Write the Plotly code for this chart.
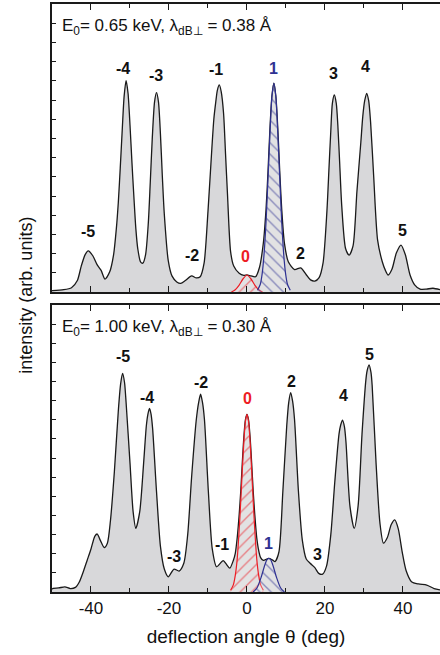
import plotly.graph_objects as go

# ---- measured spectrum, E0 = 0.65 keV (upper panel) ----
theta_a = [-50, -47, -45, -43.5, -42.5, -41.5, -40.7, -39.5, -38.4, -37.4, -36.4,
           -35.2, -34.2, -33.5, -33, -32.5, -32, -31.5, -31, -30.5, -30, -29.5,
           -29, -28.5, -28, -27.3, -26.7, -26, -25.3, -24.8, -24.3, -23.7, -23.2,
           -22.7, -22.2, -21.7, -21.2, -20.2, -19.2, -18, -17, -15.8, -14.2, -13,
           -12, -11, -10, -9, -8.5, -8, -7.6, -7.1, -6.6, -6, -5.5, -5, -4.2,
           -3.4, -2, -0.8, 0, 1, 2.2, 3.2, 4.2, 4.9, 5.4, 5.9, 6.4, 6.9, 7.4,
           7.9, 8.4, 8.9, 9.6, 10.6, 12.2, 13.8, 15.2, 16.3, 17.4, 18.5, 19.5,
           20.5, 21, 21.5, 21.9, 22.4, 22.9, 23.3, 23.8, 24.3, 25.3, 26.2, 27.2,
           28.2, 29.2, 29.7, 30.2, 30.7, 31.2, 31.7, 32.5, 33.5, 34.7, 35.5, 36.2,
           37.2, 38.3, 39.5, 40.6, 41.8, 43, 44.4, 46, 47.7, 49.5]
inten_a = [0.5, 0.8, 1.5, 4, 9, 13, 14.3, 12.5, 9.4, 7.5, 4.5,
           7, 13, 22, 31, 43, 56, 68, 73.4, 69, 58, 45,
           33, 22, 15, 10.5, 10, 13, 24, 38, 53, 66, 69.2,
           66, 55, 40, 27, 11, 5.5, 3.5, 3, 4, 5.6, 4.9,
           5.3, 10, 28, 50, 60, 66, 70, 71.9, 69.5, 62, 48, 34, 14,
           9, 6.5, 5.8, 5.9, 5.6, 5.3, 8.5, 17, 29, 42, 57, 68, 72.5, 68,
           57, 42, 29, 17, 10.5, 7.8, 8.4, 6, 4.2, 3.8, 5, 10,
           28, 42, 56, 65.5, 68.4, 65.5, 58, 44, 30, 15, 12.8, 16,
           35, 52, 61, 66.5, 69, 66.5, 59, 40, 18, 10.5, 7.5, 5.9,
           8, 13.5, 16.3, 13, 6, 2.5, 1.0, 1.0, 1.3, 0.8]

# fitted zeroth-order (red) and first-order (blue) components, upper panel
fit0_theta_a = [-4, -3, -2, -1, 0, 1, 2, 3, 4]
fit0_inten_a = [0, 0.8, 2.4, 4.6, 5.9, 4.6, 2.4, 0.8, 0]
fit1_theta_a = [2.7, 3.4, 3.9, 4.4, 4.9, 5.4, 5.9, 6.4, 6.9, 7.4, 7.9, 8.4, 8.9,
                9.4, 9.9, 10.4, 11.1]
fit1_inten_a = [0.6, 2.6, 6.4, 13.4, 24.6, 39.5, 55.1, 67.8, 72.5, 67.8, 55.1, 39.5,
                24.6, 13.4, 6.4, 2.6, 0.6]

# ---- measured spectrum, E0 = 1.00 keV (lower panel) ----
theta_b = [-50, -49.7, -48.3, -46.7, -45.3, -44, -43, -42, -41, -40, -39, -38.4,
           -37.6, -36.6, -35.8, -35, -34, -33, -32.4, -31.9, -31.4, -31, -30,
           -29.2, -28.5, -27.5, -26.5, -25.8, -25.4, -25, -24.6, -24.2, -23.2,
           -22.2, -21.2, -20.2, -18.7, -17.4, -16.2, -15.2, -14.2, -13, -12.4,
           -11.9, -11.4, -10.9, -9.9, -8.9, -7.8, -6.1, -5.2, -4.4, -3.5, -3,
           -2.5, -2, -1.6, -1.2, -0.8, -0.4, 0, 0.4, 0.8, 1.2, 1.6, 2, 2.5, 3,
           3.5, 4.2, 5.6, 6.5, 7.2, 8.2, 9.2, 10.2, 10.7, 11.2, 11.7, 12.2, 13.2,
           14.2, 15.2, 16.2, 17.4, 18.4, 19.4, 20.4, 21.5, 22.5, 23.6, 24, 24.5,
           25, 25.4, 26.4, 27.5, 28.5, 29.5, 30.5, 30.8, 31.3, 31.8, 32.1, 33.1,
           34.1, 35, 36, 37, 37.9, 38.8, 39.8, 40.8, 42.2, 44, 46.1, 48, 49.5]
inten_b = [1.0, 1.3, 1.4, 1.8, 1.2, 1.6, 3.5, 7, 11, 15, 19.5, 20.2,
           18, 15.5, 17, 25, 42, 63, 72.5, 76.2, 73, 66, 45,
           28, 22.2, 28, 45, 58, 62, 64, 62, 57, 35,
           16, 8, 5.3, 8.0, 7.3, 10, 20, 40, 60, 66,
           68.9, 66, 60, 35, 15, 8.8, 10.9, 9.5, 8.3, 11, 13.5,
           19, 27, 35, 45, 54, 60, 61.9, 60, 54, 45, 35, 27, 19, 14.5,
           12, 11, 11.7, 11.2, 10.6, 14, 35, 58, 66, 69.5, 66.5, 60, 35,
           18, 11.5, 10.0, 8.5, 6.5, 6.2, 9, 20, 38, 55, 58, 59.9,
           57.5, 52, 30, 22.2, 30, 55, 74, 77, 79.1, 76.5, 72, 45,
           24, 17.0, 19, 23.5, 25.1, 22, 14, 7.5, 3.6, 2.8, 2.4, 1.2, 0.7]

fit0_theta_b = [-4.2, -3.5, -3, -2.5, -2, -1.6, -1.2, -0.8, -0.4, 0, 0.4, 0.8, 1.2,
                1.6, 2, 2.5, 3, 3.5, 4.2]
fit0_inten_b = [0.6, 2.5, 5.8, 11.6, 21.7, 31.6, 42.4, 52.3, 59.4, 61.9, 59.4, 52.3,
                42.4, 31.6, 21.7, 11.6, 5.8, 2.5, 0.6]
fit1_theta_b = [1.6, 2.6, 3.6, 4.6, 5.1, 5.6, 6.1, 6.6, 7.6, 8.6, 9.6]
fit1_inten_b = [0, 1.5, 5, 9.5, 11.2, 11.7, 11.2, 9.5, 5, 1.5, 0]

# diffraction-order labels for each panel
orders_a = ["-5", "-4", "-3", "-2", "-1", "0", "1", "2", "3", "4", "5"]
order_x_a = [-40.7, -31.9, -23.3, -14.2, -7.9, -0.3, 6.9, 13.8, 22.3, 30.3, 39.9]
order_y_a = [20.9, 77.7, 75.3, 12.8, 77.1, 12.3, 77.7, 13.2, 75.7, 78.2, 21.5]
orders_b = ["-5", "-4", "-3", "-2", "-1", "0", "1", "2", "3", "4", "5"]
order_x_b = [-31.7, -25.7, -18.7, -11.8, -6.5, 0.1, 5.6, 11.5, 18.0, 24.7, 31.3]
order_y_b = [82.0, 67.7, 12.3, 73.1, 16.4, 67.5, 17.0, 73.5, 13.1, 68.3, 82.8]

x_major = [-40, -20, 0, 20, 40]
x_major_text = ["-40", "-20", "0", "20", "40"]
x_minor = [-30, -10, 10, 30]

titles = ["E<sub>0</sub>= 0.65 keV, λ<sub>dB⊥</sub> = 0.38 Å",
          "E<sub>0</sub>= 1.00 keV, λ<sub>dB⊥</sub> = 0.30 Å"]

RED = "#ed1c24"
BLUE = "#2e3192"
GREY = "rgb(216,216,218)"
INK = "#1a1a1a"
FONT = "Liberation Sans, Arial, sans-serif"

fig = go.Figure()

panels = [
    ("x", "y", theta_a, inten_a, fit0_theta_a, fit0_inten_a, fit1_theta_a, fit1_inten_a),
    ("x2", "y2", theta_b, inten_b, fit0_theta_b, fit0_inten_b, fit1_theta_b, fit1_inten_b),
]
for xa, ya, th, it, t0, i0, t1, i1 in panels:
    fig.add_trace(go.Scatter(x=th, y=it, xaxis=xa, yaxis=ya, mode="lines",
                             line=dict(color=INK, width=1.3, shape="spline", smoothing=0.7),
                             fill="tozeroy", fillcolor=GREY, hoverinfo="skip"))
    fig.add_trace(go.Scatter(x=t0, y=i0, xaxis=xa, yaxis=ya, mode="lines",
                             line=dict(color=RED, width=1.2, shape="spline", smoothing=0.7),
                             fill="tozeroy",
                             fillpattern=dict(shape="/", fgcolor=RED, bgcolor="rgba(255,255,255,0.25)",
                                              size=8, solidity=0.17),
                             hoverinfo="skip"))
    fig.add_trace(go.Scatter(x=t1, y=i1, xaxis=xa, yaxis=ya, mode="lines",
                             line=dict(color=BLUE, width=1.2, shape="spline", smoothing=0.7),
                             fill="tozeroy",
                             fillpattern=dict(shape="\\", fgcolor=BLUE, bgcolor="rgba(255,255,255,0.25)",
                                              size=8, solidity=0.17),
                             hoverinfo="skip"))

annotations = []
for xr, yr, labels, lx, ly in [("x", "y", orders_a, order_x_a, order_y_a),
                               ("x2", "y2", orders_b, order_x_b, order_y_b)]:
    for lab, px, py in zip(labels, lx, ly):
        col = RED if lab == "0" else (BLUE if lab == "1" else "#111111")
        annotations.append(dict(x=px, y=py, xref=xr, yref=yr, text="<b>%s</b>" % lab,
                                showarrow=False, xanchor="center", yanchor="middle",
                                font=dict(family=FONT, size=16, color=col)))

for title, xr, yr in zip(titles, ["x", "x2"], ["y domain", "y2 domain"]):
    annotations.append(dict(x=-48, y=0.92, xref=xr, yref=yr,
                            text=title, showarrow=False, xanchor="left", yanchor="middle",
                            font=dict(family=FONT, size=17, color="#111111")))

annotations.append(dict(x=-0.068, y=0.505, xref="paper", yref="paper",
                        text="intensity (arb. units)", textangle=-90, showarrow=False,
                        xanchor="center", yanchor="middle",
                        font=dict(family=FONT, size=18, color="#111111")))

axis_common = dict(range=[-50, 49.5], showline=True, linecolor=INK, linewidth=1.6,
                   mirror="allticks", ticks="inside", ticklen=6, tickwidth=1.4,
                   tickcolor=INK, tickmode="array", tickvals=x_major,
                   ticktext=x_major_text, showgrid=False, zeroline=False,
                   minor=dict(tickmode="array", tickvals=x_minor, ticks="inside",
                              ticklen=4, tickwidth=1.4, tickcolor=INK, showgrid=False))
yaxis_common = dict(range=[0, 100], showline=True, linecolor=INK, linewidth=1.6,
                    ticks="inside", ticklen=4, tickwidth=1.2, tickcolor=INK,
                    tickmode="linear", tick0=0, dtick=100 / 15, showticklabels=False,
                    showgrid=False, zeroline=False, mirror=False)

fig.update_layout(
    width=440, height=655,
    margin=dict(l=52, r=0, t=4, b=63),
    paper_bgcolor="white", plot_bgcolor="white",
    showlegend=False,
    font=dict(family=FONT, color="#111111"),
    xaxis=dict(axis_common, anchor="y", domain=[0, 1], showticklabels=False),
    yaxis=dict(yaxis_common, anchor="x", domain=[0.5102, 1.0]),
    xaxis2=dict(axis_common, anchor="y2", domain=[0, 1], showticklabels=True,
                tickfont=dict(family=FONT, size=17, color="#111111"),
                title=dict(text="deflection angle θ (deg)", standoff=12,
                           font=dict(family=FONT, size=19, color="#111111"))),
    yaxis2=dict(yaxis_common, anchor="x2", domain=[0, 0.4881]),
    annotations=annotations,
)

fig.write_html("out.html")
